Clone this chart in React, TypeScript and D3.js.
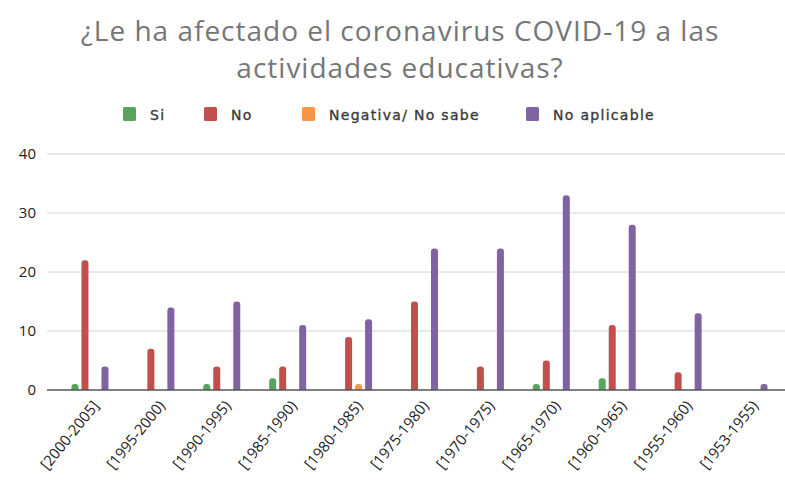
import { useEffect, useRef } from 'react';
import * as d3 from 'd3';

const categories = [
  '[2000-2005]', '[1995-2000)', '[1990-1995)', '[1985-1990)', '[1980-1985)',
  '[1975-1980)', '[1970-1975)', '[1965-1970)', '[1960-1965)', '[1955-1960)', '[1953-1955)',
];
const seriesNames = ['Si', 'No', 'Negativa/ No sabe', 'No aplicable'];
const siValues = [1, 0, 1, 2, 0, 0, 0, 1, 2, 0, 0];
const noValues = [22, 7, 4, 4, 9, 15, 4, 5, 11, 3, 0];
const negValues = [0, 0, 0, 0, 1, 0, 0, 0, 0, 0, 0];
const naValues = [4, 14, 15, 11, 12, 24, 24, 33, 28, 13, 1];
const yTicks = [0, 10, 20, 30, 40];
const colors = ['#57a55b', '#c0504d', '#f79646', '#8064a2'];

export default function App() {
  const svgRef = useRef<SVGSVGElement>(null);

  useEffect(() => {
    if (!svgRef.current) return;
    const svg = d3.select(svgRef.current);
    svg.selectAll('*').remove();

    const width = 785;
    const height = 489;

    svg.attr('width', width).attr('height', height);
    svg.append('rect').attr('width', width).attr('height', height).attr('fill', '#fff');

    // Title
    const title = svg.append('text')
      .attr('text-anchor', 'middle')
      .style('font-family', '"Open Sans", sans-serif')
      .style('font-size', '28px')
      .style('letter-spacing', '1px')
      .attr('fill', '#767676');
    title.append('tspan').attr('x', 400).attr('y', 41).text('¿Le ha afectado el coronavirus COVID-19 a las');
    title.append('tspan').attr('x', 400).attr('y', 78).text('actividades educativas?');

    // Legend
    const legendX = [123, 204, 302, 526];
    seriesNames.forEach((name, i) => {
      svg.append('rect')
        .attr('x', legendX[i])
        .attr('y', 107)
        .attr('width', 13)
        .attr('height', 14)
        .attr('rx', 1.5)
        .attr('fill', colors[i]);
      svg.append('text')
        .attr('x', legendX[i] + 27)
        .attr('y', 120)
        .style('font-family', '"DejaVu Sans", sans-serif')
        .style('font-size', '14px')
        .style('letter-spacing', '1.3px')
        .style('stroke', '#3a3a3a')
        .style('stroke-width', '0.35px')
        .attr('fill', '#3a3a3a')
        .text(name);
    });

    // Scales
    const x = d3.scaleBand<string>()
      .domain(categories)
      .range([57, 782]);

    const y = d3.scaleLinear()
      .domain([0, 40])
      .range([390, 154]);

    // Gridlines
    svg.append('g')
      .selectAll('line')
      .data(yTicks.slice(1))
      .enter()
      .append('line')
      .attr('x1', 47)
      .attr('x2', 785)
      .attr('y1', d => y(d))
      .attr('y2', d => y(d))
      .attr('stroke', '#d4d4d4')
      .attr('stroke-width', 1);

    // Y labels
    svg.append('g')
      .selectAll('text')
      .data(yTicks)
      .enter()
      .append('text')
      .attr('x', 36)
      .attr('y', d => y(d) + 5)
      .attr('text-anchor', 'end')
      .style('font-family', '"Open Sans", sans-serif')
      .style('font-size', '15px')
      .attr('fill', '#222')
      .text(d => d);

    // Bars
    const series = [siValues, noValues, negValues, naValues];
    const offsets = [-15, -5, 5, 15];
    const barW = 7;
    const r = 3;
    series.forEach((vals, si) => {
      svg.append('g')
        .selectAll('path')
        .data(vals.map((v, i) => ({ v, cat: categories[i] })).filter(d => d.v > 0))
        .enter()
        .append('path')
        .attr('fill', colors[si])
        .attr('d', d => {
          const cx = (x(d.cat) as number) + x.bandwidth() / 2 + offsets[si];
          const x0 = cx - barW / 2;
          const x1 = cx + barW / 2;
          const y0 = y(0);
          const y1 = y(d.v);
          return `M${x0},${y0} L${x0},${y1 + r} Q${x0},${y1} ${x0 + r},${y1} L${x1 - r},${y1} Q${x1},${y1} ${x1},${y1 + r} L${x1},${y0} Z`;
        });
    });

    // Zero axis
    svg.append('line')
      .attr('x1', 47)
      .attr('x2', 785)
      .attr('y1', y(0))
      .attr('y2', y(0))
      .attr('stroke', '#555')
      .attr('stroke-width', 1.5);

    // X labels
    svg.append('g')
      .selectAll('text')
      .data(categories)
      .enter()
      .append('text')
      .attr('transform', d => {
        const cx = (x(d) as number) + x.bandwidth() / 2 + 10;
        return `translate(${cx},${406}) rotate(-51)`;
      })
      .attr('text-anchor', 'end')
      .style('font-family', '"Open Sans", sans-serif')
      .style('font-size', '15px')
      .attr('fill', '#222')
      .text(d => d);
  }, []);

  return (
    <svg ref={svgRef} style={{ position: 'absolute', left: 0, top: 0, display: 'block' }} />
  );
}
